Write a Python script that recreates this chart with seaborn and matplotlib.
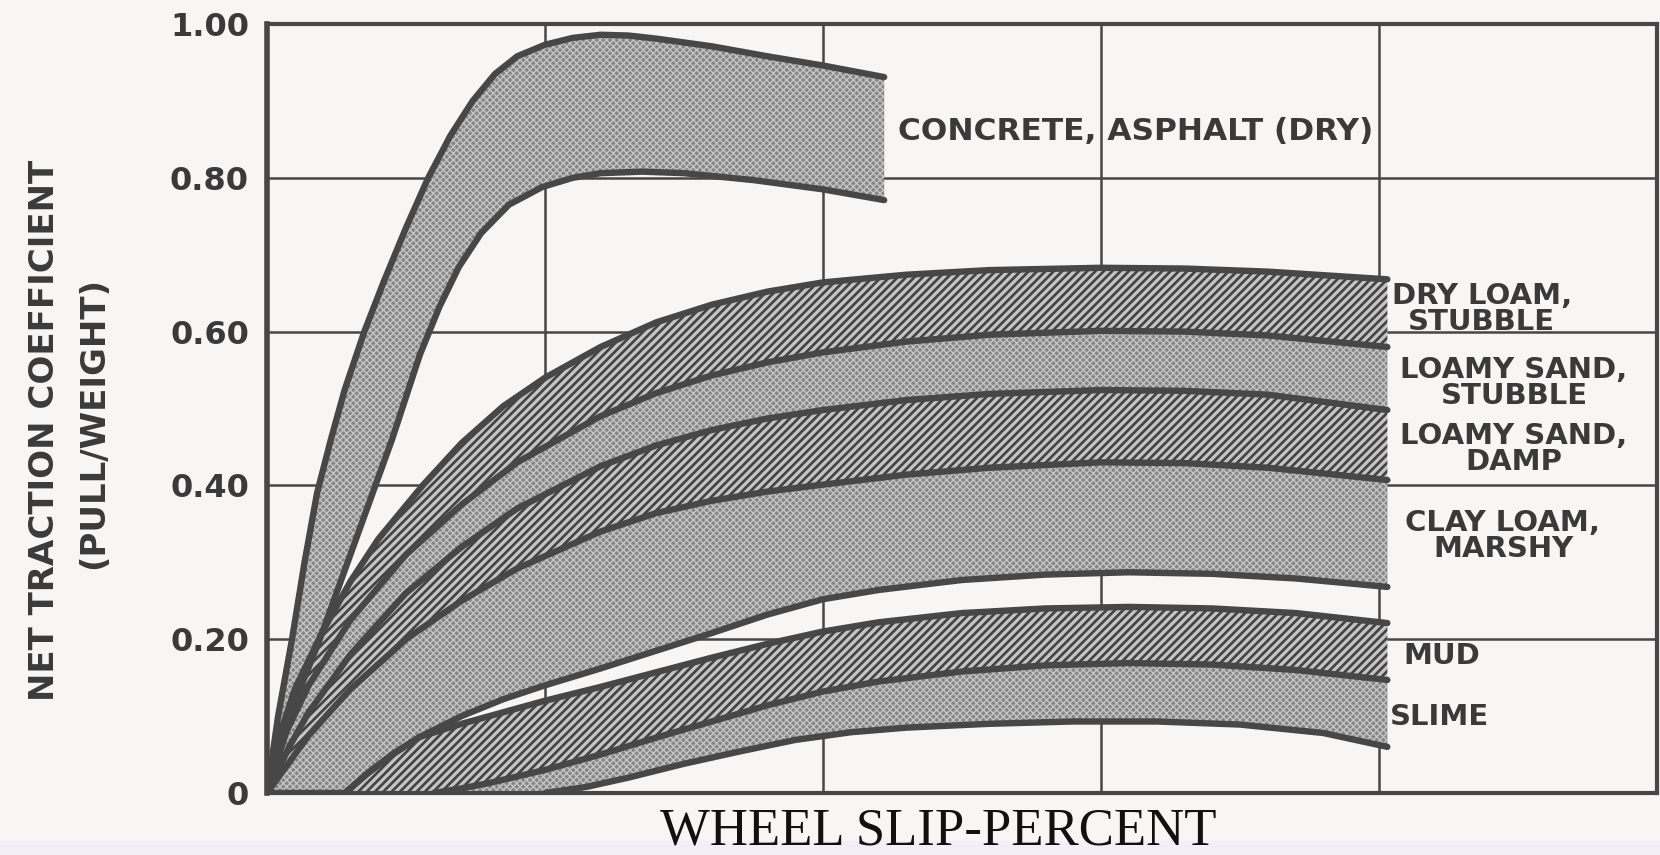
import numpy as np
import matplotlib
matplotlib.use("Agg")
import matplotlib.pyplot as plt
from matplotlib.patches import Rectangle
import seaborn as sns

# wheel slip (%) / net traction coefficient
conc_top_x = [0, 0.4, 0.9, 1.35, 1.8, 2.3, 2.8, 3.5, 4.2, 5.0, 5.8, 6.6, 7.4, 8.2, 9.0, 10, 11, 12, 13, 14, 16, 18, 20, 22.2]
conc_top_y = [0, 0.10, 0.20, 0.30, 0.39, 0.46, 0.525, 0.60, 0.665, 0.735, 0.80, 0.855, 0.90, 0.935, 0.958,
              0.973, 0.982, 0.986, 0.985, 0.981, 0.971, 0.958, 0.946, 0.931]
conc_bot_x = [0, 0.8, 1.9, 2.9, 3.8, 4.5, 5.0, 5.5, 6.2, 6.9, 7.7, 8.7, 9.9, 11, 12, 13.5, 15, 17.5, 20, 22.2]
conc_bot_y = [0, 0.10, 0.20, 0.30, 0.39, 0.46, 0.515, 0.57, 0.632, 0.684, 0.728, 0.765, 0.788, 0.80, 0.806,
              0.808, 0.806, 0.797, 0.785, 0.771]

l1_x = [0, 0.5, 1, 2, 3, 4, 5.6, 7, 8.5, 10, 12, 14, 16, 18, 20, 23, 26, 30, 33, 36, 40.3]
l1_y = [0, 0.08, 0.135, 0.21, 0.275, 0.33, 0.40, 0.455, 0.503, 0.54, 0.58, 0.612, 0.635, 0.652, 0.664,
        0.674, 0.68, 0.683, 0.682, 0.678, 0.668]
l2_x = [0, 0.7, 1.5, 3, 5, 7, 9, 12, 14, 16, 18, 20, 23, 26, 30, 33, 36, 40.3]
l2_y = [0, 0.08, 0.14, 0.225, 0.31, 0.375, 0.43, 0.49, 0.52, 0.543, 0.56, 0.573, 0.587, 0.596, 0.601, 0.60,
        0.595, 0.58]
l3_x = [0, 0.8, 1.5, 3, 5, 7, 9, 12, 14, 16, 18, 20, 23, 26, 30, 33, 36, 40.3]
l3_y = [0, 0.06, 0.105, 0.18, 0.26, 0.32, 0.37, 0.425, 0.452, 0.472, 0.487, 0.498, 0.511, 0.519, 0.524,
        0.523, 0.518, 0.498]
l4_x = [0, 0.8, 1.5, 3, 5, 7, 9, 12, 14, 16, 18, 20, 23, 26, 30, 33, 36, 40.3]
l4_y = [0, 0.04, 0.075, 0.135, 0.20, 0.25, 0.292, 0.34, 0.364, 0.38, 0.392, 0.401, 0.414, 0.423, 0.43,
        0.429, 0.423, 0.407]
l5_x = [0, 2.8, 3.6, 4.5, 5.5, 7, 8.5, 10, 12, 14, 16, 18, 20, 22, 25, 28, 31, 34, 37, 40.3]
l5_y = [0, 0, 0.025, 0.05, 0.073, 0.10, 0.122, 0.14, 0.162, 0.185, 0.208, 0.232, 0.252, 0.264, 0.277,
        0.284, 0.287, 0.285, 0.279, 0.268]
l6_x = [2.8, 3.6, 4.5, 5.5, 7, 8.5, 10, 12, 14, 16, 18, 20, 22, 25, 28, 31, 34, 37, 40.3]
l6_y = [0, 0.025, 0.05, 0.073, 0.09, 0.105, 0.12, 0.138, 0.157, 0.176, 0.194, 0.21, 0.222, 0.234, 0.24,
        0.242, 0.24, 0.234, 0.221]
l7_x = [6, 7, 8, 10, 12, 14, 16, 18, 20, 22, 25, 28, 31, 34, 37, 40.3]
l7_y = [0, 0.006, 0.013, 0.03, 0.05, 0.072, 0.093, 0.114, 0.132, 0.145, 0.158, 0.166, 0.169, 0.167, 0.16,
        0.147]
l8_x = [10, 11.5, 13, 15, 17, 19, 21, 23, 26, 29, 32, 35, 38, 40.3]
l8_y = [0, 0.008, 0.02, 0.038, 0.054, 0.069, 0.079, 0.085, 0.09, 0.093, 0.093, 0.089, 0.078, 0.06]

y_ticks = [0, 0.2, 0.4, 0.6, 0.8, 1.0]
y_tick_labels = ["0", "0.20", "0.40", "0.60", "0.80", "1.00"]
x_grid = [10, 20, 30, 40]

ink = "#474747"
txt = "#3a3a3a"
paper = "#f8f6f4"

sns.set_style("white")
plt.rcParams["font.family"] = ["DejaVu Sans"]

fig = plt.figure(figsize=(16.6, 8.55), dpi=100, facecolor=paper)
ax = fig.add_axes([267 / 1660, 1 - 793 / 855, (1657 - 267) / 1660, (793 - 24) / 855])
ax.set_facecolor(paper)
ax.set_xlim(0, 50)
ax.set_ylim(0, 1)

ax.set_xticks(x_grid)
ax.set_xticklabels([])
ax.set_yticks(y_ticks)
ax.set_yticklabels(y_tick_labels, fontsize=23, fontweight="bold", color=txt)
ax.tick_params(length=0, pad=13)
ax.grid(True, color=ink, lw=1.8)
ax.set_axisbelow(True)
for s in ax.spines.values():
    s.set_color(ink)
    s.set_linewidth(3)
ax.spines["left"].set_linewidth(4)


def band(xt, yt, xb, yb, kind):
    px = np.concatenate([xt, xb[::-1]])
    py = np.concatenate([yt, yb[::-1]])
    if kind == "hatch":
        plt.rcParams["hatch.linewidth"] = 1.9
        ax.fill(px, py, facecolor="#c4c4c4", edgecolor="#424242", hatch="////", lw=0, zorder=2)
    else:
        plt.rcParams["hatch.linewidth"] = 1.0
        ax.fill(px, py, facecolor="#858585", edgecolor="#c4c4c4", hatch="xxxxx", lw=0, zorder=2)


A = np.array
band(A(conc_top_x), A(conc_top_y), A(conc_bot_x), A(conc_bot_y), "dots")
band(A(l1_x), A(l1_y), A(l2_x), A(l2_y), "hatch")
band(A(l2_x), A(l2_y), A(l3_x), A(l3_y), "dots")
band(A(l3_x), A(l3_y), A(l4_x), A(l4_y), "hatch")
band(A(l4_x), A(l4_y), A(l5_x), A(l5_y), "dots")
band(A(l6_x), A(l6_y), A(l7_x), A(l7_y), "hatch")
band(A(l7_x), A(l7_y), A(l8_x), A(l8_y), "dots")

curves = [(conc_top_x, conc_top_y), (conc_bot_x, conc_bot_y), (l1_x, l1_y), (l2_x, l2_y),
          (l3_x, l3_y), (l4_x, l4_y), (l5_x, l5_y), (l6_x, l6_y), (l7_x, l7_y), (l8_x, l8_y)]
for cx, cy in curves:
    sns.lineplot(x=cx, y=cy, ax=ax, color=ink, lw=4.6, sort=False, zorder=3)
for ln in ax.lines:
    ln.set_solid_capstyle("round")
    ln.set_solid_joinstyle("round")

lab = dict(fontsize=21, fontweight="bold", color=txt, va="center", linespacing=0.92)
ax.text(22.7, 0.86, "CONCRETE, ASPHALT (DRY)", ha="left", fontsize=22.5, fontweight="bold",
        color=txt, va="center")
ax.text(43.7, 0.629, "DRY LOAM,\nSTUBBLE", ha="center", multialignment="center", **lab)
ax.text(44.86, 0.533, "LOAMY SAND,\nSTUBBLE", ha="center", multialignment="center", **lab)
ax.text(44.86, 0.447, "LOAMY SAND,\nDAMP", ha="center", multialignment="center", **lab)
ax.text(44.46, 0.334, "CLAY LOAM,\nMARSHY", ha="center", multialignment="center", **lab)
ax.text(40.86, 0.178, "MUD", ha="left", **lab)
ax.text(40.4, 0.099, "SLIME", ha="left", **lab)

fig.text(45 / 1660, 1 - 430 / 855, "NET TRACTION COEFFICIENT", rotation=90, ha="center", va="center",
         fontsize=24.5, fontweight="bold", color=txt)
fig.text(94 / 1660, 1 - 423 / 855, "(PULL/WEIGHT)", rotation=90, ha="center", va="center",
         fontsize=24.5, fontweight="bold", color=txt)
fig.text(938 / 1660, 1 - 831 / 855, "WHEEL SLIP-PERCENT", ha="center", va="center",
         fontsize=38, family="Liberation Serif", color="#111111")

# scanner edge at the bottom
fig.patches.append(Rectangle((0, 0), 1, 14 / 855, transform=fig.transFigure, color="#f3eef8", zorder=0))

fig.savefig("out.png", dpi=100, facecolor=paper)
